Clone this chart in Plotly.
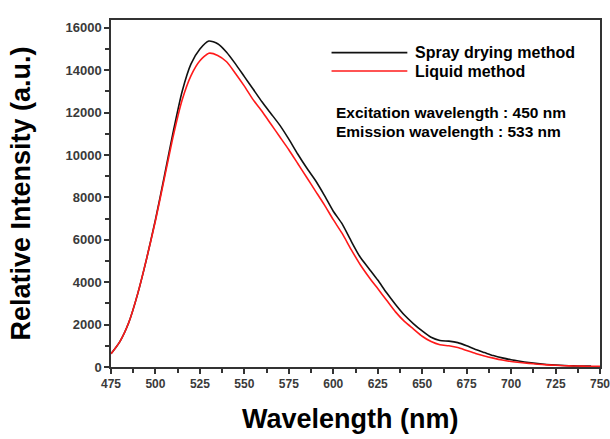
import plotly.graph_objects as go

wavelength = [475, 480, 485, 490, 495, 500, 505, 510, 515, 520, 525, 530, 535, 540, 545,
              550, 555, 560, 565, 570, 575, 580, 585, 590, 595, 600, 605, 610, 615, 620,
              625, 630, 635, 640, 645, 650, 655, 660, 665, 670, 675, 680, 685, 690, 695,
              700, 705, 710, 715, 720, 725, 730, 735, 740, 745, 750]

spray_drying = [620, 1200, 2100, 3450, 5100, 6950, 9000, 11100, 13000, 14300, 15000, 15380,
                15250, 14850, 14300, 13700, 13100, 12500, 11950, 11400, 10750, 10050, 9400,
                8800, 8100, 7350, 6750, 5950, 5200, 4650, 4100, 3500, 2950, 2450, 2050, 1700,
                1400, 1250, 1220, 1150, 1000, 820, 680, 540, 430, 340, 270, 210, 160, 120,
                90, 70, 55, 45, 40, None]

liquid = [620, 1200, 2100, 3450, 5100, 6900, 8900, 10900, 12600, 13750, 14450, 14800,
          14700, 14400, 13850, 13250, 12600, 12050, 11450, 10850, 10250, 9600, 8950, 8300,
          7650, 6950, 6300, 5550, 4850, 4250, 3700, 3150, 2600, 2150, 1800, 1450, 1200,
          1050, 1000, 920, 780, 640, 520, 420, 330, 260, 210, 170, 130, 100, 80, 60, 50,
          40, 35, 30]

x_ticks = [475, 500, 525, 550, 575, 600, 625, 650, 675, 700, 725, 750]
y_ticks = [0, 2000, 4000, 6000, 8000, 10000, 12000, 14000, 16000]

series_names = ["Spray drying method", "Liquid method"]
info_lines = ["Excitation wavelength : 450 nm", "Emission wavelength : 533 nm"]

FONT = "Liberation Sans, Arial, sans-serif"
AXC = "#333333"

fig = go.Figure()
fig.add_trace(go.Scatter(x=wavelength, y=spray_drying, mode="lines",
                         line=dict(color="#111111", width=1.6, shape="spline", smoothing=0.6),
                         name=series_names[0], showlegend=False))
fig.add_trace(go.Scatter(x=wavelength, y=liquid, mode="lines",
                         line=dict(color="#ff1a1a", width=1.6, shape="spline", smoothing=0.6),
                         name=series_names[1], showlegend=False))

axis_common = dict(
    showgrid=False, zeroline=False, showline=True, linecolor=AXC, linewidth=1.5,
    mirror=True, ticks="outside", ticklen=5, tickwidth=1.5, tickcolor=AXC,
    automargin=False, ticklabeloverflow="allow",
)

fig.update_xaxes(range=[475, 750], tickvals=x_ticks, ticktext=[str(v) for v in x_ticks],
                 tickfont=dict(family=FONT, size=12, color="#3a3a3a", weight="bold"),
                 minor=dict(ticks="outside", ticklen=4, tickwidth=1.5, tickcolor=AXC,
                            dtick=12.5, tick0=475),
                 **axis_common)
fig.update_yaxes(range=[0, 16370], tickvals=y_ticks, ticktext=[str(v) for v in y_ticks],
                 tickfont=dict(family=FONT, size=13, color="#3a3a3a", weight="bold"),
                 minor=dict(ticks="outside", ticklen=4, tickwidth=1.5, tickcolor=AXC,
                            dtick=1000, tick0=0),
                 **axis_common)

# legend drawn manually
legend_colors = ["#111111", "#ff1a1a"]
legend_y = [0.906, 0.853]
for name, col, yy in zip(series_names, legend_colors, legend_y):
    fig.add_shape(type="line", xref="paper", yref="paper", x0=0.451, x1=0.606,
                  y0=yy, y1=yy, line=dict(color=col, width=1.6))
    fig.add_annotation(text=name, xref="paper", yref="paper", x=0.618, y=yy,
                       xanchor="left", yanchor="middle", showarrow=False,
                       font=dict(family=FONT, size=16, color="#000000", weight="bold"))

for txt, yy in zip(info_lines, [0.734, 0.68]):
    fig.add_annotation(text=txt, xref="paper", yref="paper", x=0.456, y=yy,
                       xanchor="left", yanchor="middle", showarrow=False,
                       font=dict(family=FONT, size=15.5, color="#000000", weight="bold"))

# axis titles
fig.add_annotation(text="Relative Intensity (a.u.)", xref="paper", yref="paper",
                   x=-0.186, y=0.50, textangle=-90, showarrow=False,
                   xanchor="center", yanchor="middle",
                   font=dict(family=FONT, size=27, color="#000000", weight="bold"))
fig.add_annotation(text="Wavelength (nm)", xref="paper", yref="paper",
                   x=0.49, y=-0.150, showarrow=False, xanchor="center", yanchor="middle",
                   font=dict(family=FONT, size=27, color="#000000", weight="bold"))

fig.update_layout(
    width=610, height=439,
    margin=dict(l=111, r=10, t=20, b=72),
    paper_bgcolor="white", plot_bgcolor="white",
    showlegend=False,
)

fig.write_html("out.html", config={"displayModeBar": False},
               post_script="document.body.style.margin='0';document.body.style.overflow='hidden';")
